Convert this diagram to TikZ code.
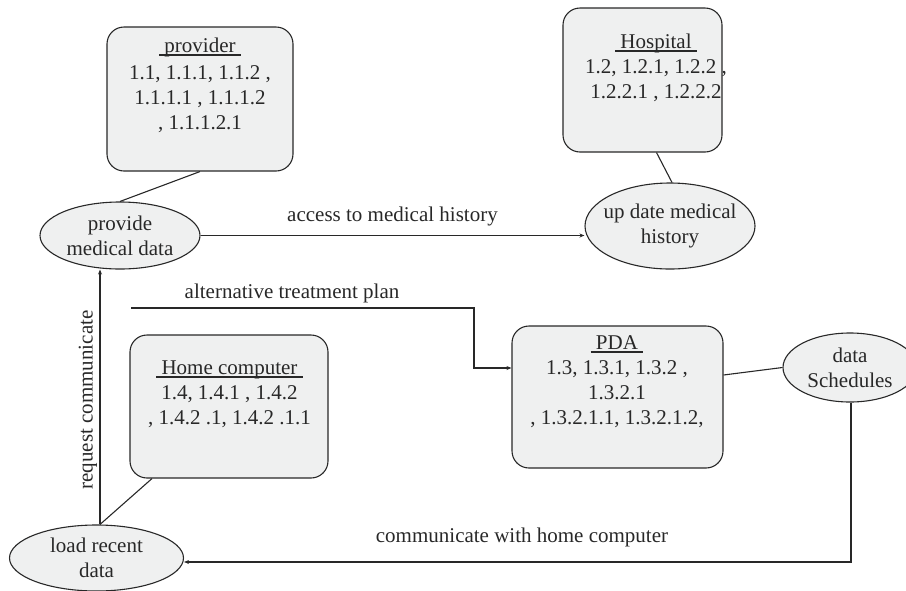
\documentclass[tikz,border=0pt]{standalone}
\usepackage{fontspec}
\setmainfont{Liberation Serif}
\usetikzlibrary{arrows.meta,shapes.geometric}
\definecolor{boxfill}{RGB}{239,240,240}
\definecolor{ink}{RGB}{40,40,40}
% underlined card title; a heavy rule just below the baseline
\newsavebox\titlebox
\newcommand\cardtitle[1]{\sbox\titlebox{\ #1\ }%
  \rlap{\rule[-3.6pt]{\wd\titlebox}{1.8pt}}\usebox\titlebox}
\begin{document}
\begin{tikzpicture}[x=1pt,y=-1pt,
  every node/.style={font=\fontsize{21}{25}\selectfont, text=ink},
  card/.style={draw=ink, line width=1.1pt, fill=boxfill, rounded corners=17pt, inner sep=0pt},
  bubble/.style={ellipse, draw=ink, line width=1.1pt, fill=boxfill, inner sep=0pt},
  txt/.style={align=center, inner sep=0pt},
  link/.style={draw=ink, line width=1.1pt},
  flow/.style={link, -{Stealth[length=5pt,width=4pt]}}]
\useasboundingbox (0,0) rectangle (906,590);

% entity cards
\node[card, minimum width=186pt, minimum height=144pt] (prov) at (200,99) {};
\node[card, minimum width=159pt, minimum height=144pt] (hosp) at (642.5,80) {};
\node[card, minimum width=211pt, minimum height=142pt] (pda) at (617.5,397) {};
\node[card, minimum width=198pt, minimum height=143pt] (home) at (229,406.5) {};

% card contents (anchored on the baseline of the last line)
\node[txt, anchor=base] (provtxt) at (200,129)
  {\cardtitle{provider}\\[2pt]1.1, 1.1.1, 1.1.2 ,\\1.1.1.1 , 1.1.1.2\\, 1.1.1.2.1};
\node[txt, anchor=base] (hosptxt) at (656,98)
  {\cardtitle{Hospital}\\1.2, 1.2.1, 1.2.2 ,\\1.2.2.1 , 1.2.2.2};
\node[txt, anchor=base] (pdatxt) at (617,424)
  {\cardtitle{PDA}\\1.3, 1.3.1, 1.3.2 ,\\1.3.2.1\\, 1.3.2.1.1, 1.3.2.1.2,};
\node[txt, anchor=base] (hometxt) at (229.5,424)
  {\cardtitle{Home computer}\\1.4, 1.4.1 , 1.4.2\\, 1.4.2 .1, 1.4.2 .1.1};

% processes
\node[bubble, minimum width=160pt, minimum height=67pt] (pmd) at (120,235.5) {};
\node[txt] (pmdtxt) at (pmd.center) {provide\\medical data};
\node[bubble, minimum width=170pt, minimum height=86pt] (upd) at (670,226) {};
\node[txt] (updtxt) at (upd.center) {up date medical\\history};
\node[bubble, minimum width=134pt, minimum height=69pt] (ds) at (850,367.5) {};
\node[txt] (dstxt) at (ds.center) {data\\Schedules};
\node[bubble, minimum width=174pt, minimum height=66pt] (lrd) at (96.5,558) {};
\node[txt] (lrdtxt) at (lrd.center) {load recent\\data};

% associations
\draw[link] (prov.south) -- (pmd.north);
\draw[link] ([xshift=14pt]hosp.south) -- ([xshift=2pt]upd.north);
\draw[link] ([yshift=22pt]pda.east) -- (ds.west);
\draw[link] ([xshift=-77pt]home.south) -- ([xshift=3.5pt]lrd.north);

% data flows
\draw[flow] (pmd.east) -- (pmd.east -| upd.west)
  node[midway, above=9pt, inner sep=0pt] (acc) {access to medical history};

\coordinate (altstart) at (131,308);
\coordinate (altbend) at (474,308);
\draw[flow] (altstart) -- (altbend) |- ([yshift=29pt]pda.west);
\node[inner sep=0pt] (altlbl) at (292,293) {alternative treatment plan};

\coordinate (combend) at (851,562);
\draw[flow] ([xshift=1pt]ds.south) -- (combend) -- ([yshift=-4pt]lrd.east);
\node[inner sep=0pt] (comlbl) at (522,537) {communicate with home computer};

\draw[flow] ([xshift=3.5pt]lrd.north) -- ([xshift=3.5pt]lrd.north |- pmd.south);
\node[inner sep=0pt, rotate=90] (reqlbl) at (88,400) {request communicate};
\end{tikzpicture}
\end{document}
